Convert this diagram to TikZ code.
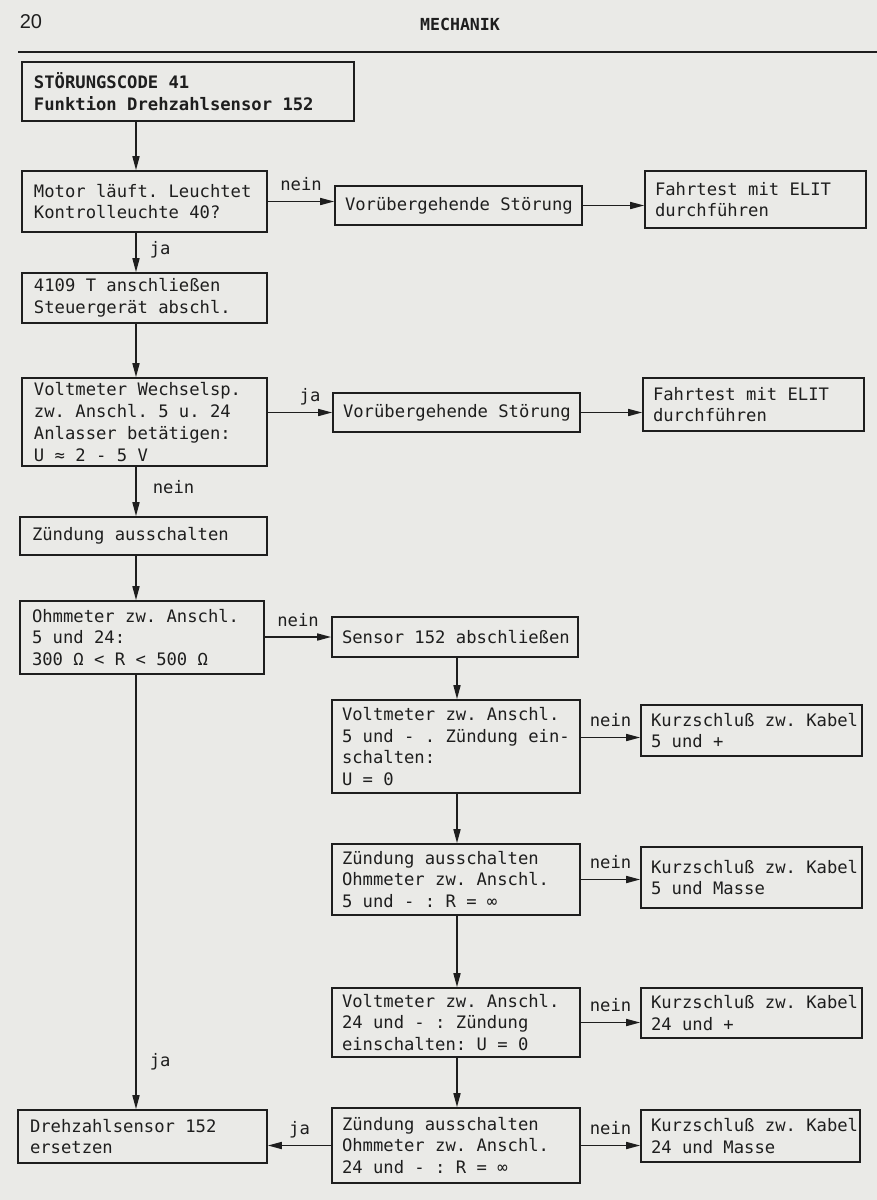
\documentclass[tikz,border=0pt]{standalone}
\usepackage{fontspec}
\setmonofont{DejaVu Sans Mono}
\setsansfont{Liberation Sans}
\usetikzlibrary{arrows.meta}
\definecolor{paper}{RGB}{234,234,231}
\definecolor{ink}{RGB}{30,30,30}
\newcommand\zl[1]{\mbox{\spaceskip=0pt\xspaceskip=0pt#1}}
\frenchspacing
% #1 options, #2 name, #3 x1, #4 y1, #5 x2, #6 y2, #7 inset, #8 text
\newcommand\bx[8][]{%
  \pgfmathsetmacro\bxw{#5-#3}%
  \pgfmathsetmacro\bxh{#6-#4}%
  \pgfmathsetmacro\bxt{#5-#3-2*#7}%
  \pgfmathsetmacro\bxx{(#3+#5)/2}%
  \pgfmathsetmacro\bxy{(#4+#6)/2}%
  \node[box,inner xsep=#7pt,minimum width=\bxw pt,minimum height=\bxh pt,text width=\bxt pt,#1] (#2) at (\bxx,\bxy) {#8};}
\begin{document}
\begin{tikzpicture}[x=1pt,y=-1pt,
  every node/.style={font=\ttfamily\frenchspacing\fontsize{17.2}{21.7}\selectfont,text=ink},
  box/.style={draw=ink,line width=1.6pt,inner ysep=3pt,align=left},
  arr/.style={draw=ink,line width=1.6pt,-{Triangle[length=14pt,width=7pt]}},
  lab/.style={midway,anchor=base,yshift=11pt,inner sep=0pt},
  vlab/.style={anchor=mid west,xshift=13pt,inner sep=0pt}]
\fill[paper] (0,0) rectangle (877,1200);
\useasboundingbox (0,0) rectangle (877,1200);
% header
\node[font=\sffamily\fontsize{20}{24}\selectfont] (pnum) at (31,22) {20};
\node[font=\ttfamily\bfseries\fontsize{16.6}{20}\selectfont] (head) at (460,24) {MECHANIK};
\draw[ink,line width=1.5pt] (18,52) -- (877,52);
% boxes
\bx[font=\ttfamily\bfseries\frenchspacing\fontsize{17.2}{21.7}\selectfont]{b1}{22}{62}{354}{121}{12}{\zl{STÖRUNGSCODE 41}\\\zl{Funktion Drehzahlsensor 152}}
\bx{b2}{22}{171}{267}{232}{12}{\zl{Motor läuft. Leuchtet}\\\zl{Kontrolleuchte 40?}}
\bx{b3}{335}{186}{582}{225}{10}{\zl{Vorübergehende Störung}}
\bx{b4}{645}{171}{866}{228}{10}{\zl{Fahrtest mit ELIT}\\durchführen}
\bx{b5}{22}{273}{267}{323}{12}{\zl{4109 T anschließen}\\\zl{Steuergerät abschl.}}
\bx{b6}{22}{378}{267}{466}{12}{\zl{Voltmeter Wechselsp.}\\\zl{zw. Anschl. 5 u. 24}\\\zl{Anlasser betätigen:}\\\zl{U ≈ 2 - 5 V}}
\bx{b7}{333}{393}{580}{432}{10}{\zl{Vorübergehende Störung}}
\bx{b8}{643}{378}{864}{431}{10}{\zl{Fahrtest mit ELIT}\\durchführen}
\bx{b9}{20}{517}{267}{555}{12}{\zl{Zündung ausschalten}}
\bx{b10}{20}{601}{264}{674}{12}{\zl{Ohmmeter zw. Anschl.}\\\zl{5 und 24:}\\\zl{300 Ω < R < 500 Ω}}
\bx{b11}{332}{617}{578}{657}{10}{\zl{Sensor 152 abschließen}}
\bx{b12}{332}{700}{580}{793}{10}{\zl{Voltmeter zw. Anschl.}\\\zl{5 und - . Zündung ein-}\\schalten:\\\zl{U = 0}}
\bx{b13}{641}{705}{862}{756}{10}{\zl{Kurzschluß zw. Kabel}\\\zl{5 und +}}
\bx{b14}{332}{844}{580}{915}{10}{\zl{Zündung ausschalten}\\\zl{Ohmmeter zw. Anschl.}\\\zl{5 und - : R = ∞}}
\bx{b15}{641}{847}{862}{908}{10}{\zl{Kurzschluß zw. Kabel}\\\zl{5 und Masse}}
\bx{b16}{332}{988}{580}{1057}{10}{\zl{Voltmeter zw. Anschl.}\\\zl{24 und - : Zündung}\\\zl{einschalten: U = 0}}
\bx{b17}{641}{988}{862}{1038}{10}{\zl{Kurzschluß zw. Kabel}\\\zl{24 und +}}
\bx{b18}{332}{1108}{580}{1183}{10}{\zl{Zündung ausschalten}\\\zl{Ohmmeter zw. Anschl.}\\\zl{24 und - : R = ∞}}
\bx{b19}{18}{1110}{267}{1163}{12}{\zl{Drehzahlsensor 152}\\ersetzen}
\bx{b20}{641}{1110}{860}{1162}{10}{\zl{Kurzschluß zw. Kabel}\\\zl{24 und Masse}}
% columns
\coordinate (cl) at (136,0);
\coordinate (cr) at (457,0);
\path ([yshift=-7pt]b13.west) coordinate (t13);
% connectors
\draw[arr] (b1.south -| cl) -- (b2.north -| cl);
\draw[arr] (b2.east) -- (b2.east -| b3.west) node[lab]{nein};
\draw[arr] (b3.east) -- (b3.east -| b4.west);
\draw[arr] (b2.south -| cl) -- (b5.north -| cl) node[vlab,midway]{ja};
\draw[arr] (b5.south -| cl) -- (b6.north -| cl);
\draw[arr] (b6.east |- b7.west) -- (b7.west) node[lab,xshift=10pt]{ja};
\draw[arr] (b7.east) -- (b7.east -| b8.west);
\draw[arr] (b6.south -| cl) -- (b9.north -| cl) node[vlab,midway,xshift=3pt]{nein};
\draw[arr] (b9.south -| cl) -- (b10.north -| cl);
\draw[arr] (b10.east |- b11.west) -- (b11.west) node[lab]{nein};
\draw[arr] (b11.south -| cr) -- (b12.north -| cr);
\draw[arr] (b12.east |- t13) -- (t13) node[lab]{nein};
\draw[arr] (b12.south -| cr) -- (b14.north -| cr);
\draw[arr] (b14.east) -- (b14.east -| b15.west) node[lab]{nein};
\draw[arr] (b14.south -| cr) -- (b16.north -| cr);
\draw[arr] (b16.east) -- (b16.east -| b17.west) node[lab]{nein};
\draw[arr] (b16.south -| cr) -- (b18.north -| cr);
\draw[arr] (b18.west) -- (b18.west -| b19.east) node[lab]{ja};
\draw[arr] (b18.east) -- (b18.east -| b20.west) node[lab]{nein};
\draw[arr] (b10.south -| cl) -- (b19.north -| cl) node[vlab,pos=0.897]{ja};
\end{tikzpicture}
\end{document}
